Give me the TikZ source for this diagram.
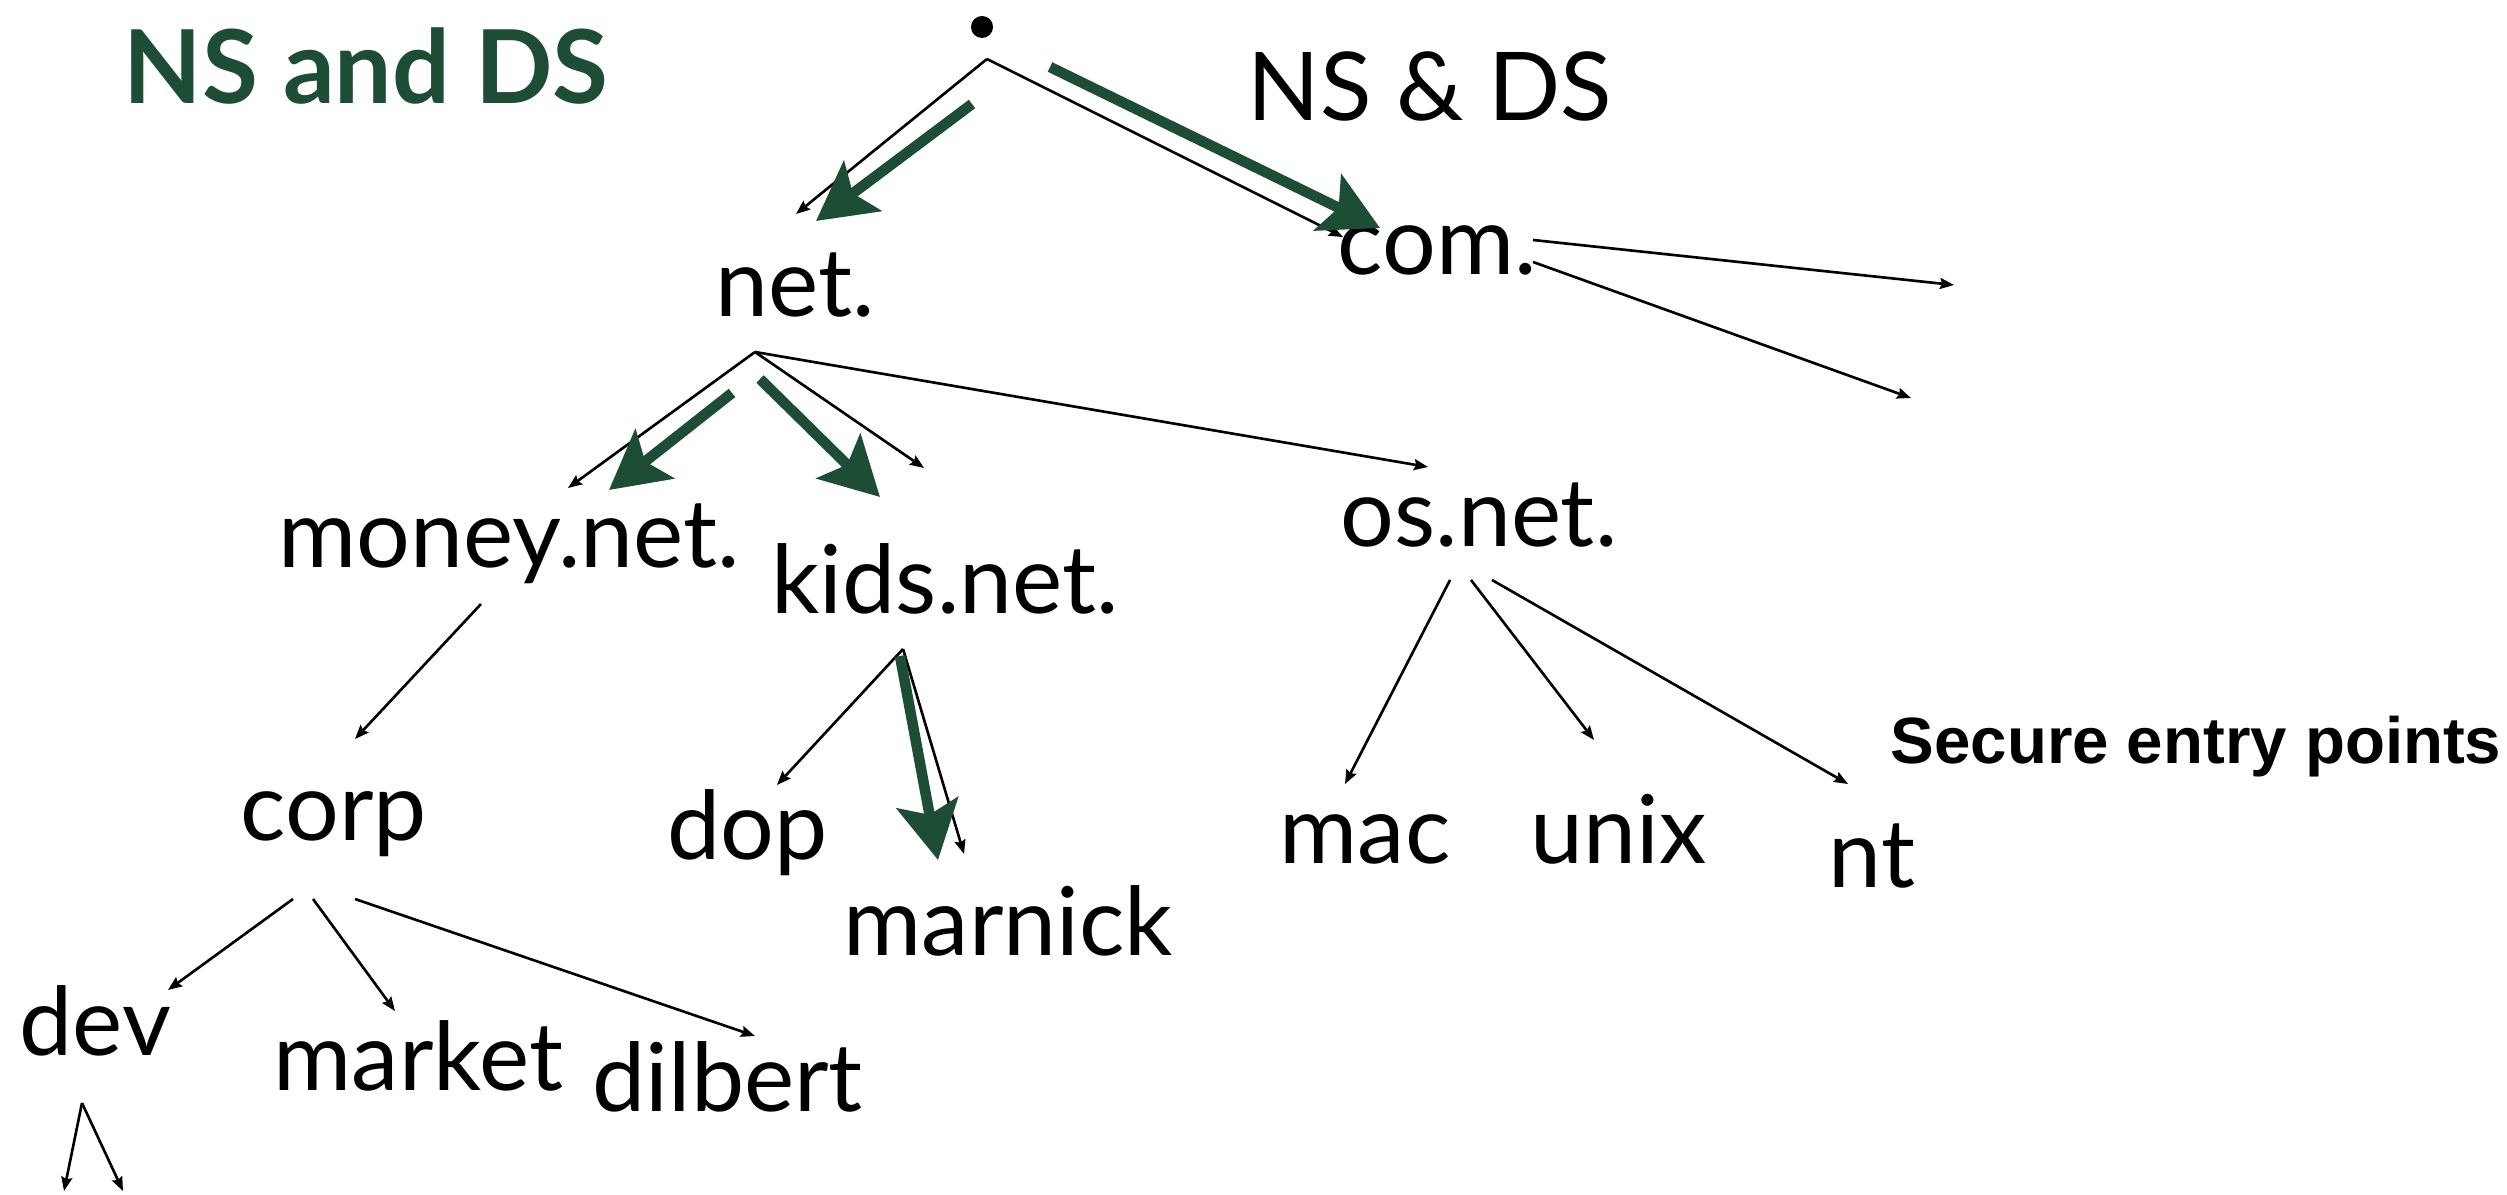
\documentclass[tikz,border=0pt]{standalone}
\usepackage{fontspec}
\setmainfont{Lato}
\newfontfamily\notefont{Liberation Sans}
\usetikzlibrary{arrows.meta}
\definecolor{dsgreen}{RGB}{30,77,54}
\begin{document}
\begin{tikzpicture}[x=0.01cm,y=-0.01cm,
  lbl/.style={font=\fontsize{27}{30}\selectfont, inner sep=0pt, anchor=base west},
  thinarr/.style={line width=0.75pt, -{Stealth[length=0.14cm,width=0.11cm,inset=0.02cm]}},
  greenarr/.style={draw=dsgreen, line width=3pt, -{Stealth[length=0.58cm,width=0.62cm,inset=0.12cm]}, fill=dsgreen}]
\useasboundingbox (0,0) rectangle (2507,1195);

% titles
\node[inner sep=0pt, anchor=base west, text=dsgreen, font=\fontsize{29}{32}\selectfont\bfseries] (title) at (123,104) {NS and DS};
\node[lbl] (nsds) at (1247,121) {NS \& DS};
\node[inner sep=0pt, anchor=base west, font=\notefont\fontsize{18.6}{20}\selectfont\bfseries] (secure) at (1890,764) {Secure entry points};

% root of the tree
\node[circle, fill, inner sep=0pt, minimum size=0.22cm] (root) at (982,27) {};

% domain labels
\node[lbl] (com) at (1337,275) {com.};
\node[lbl] (net) at (715,317) {net.};
\node[lbl] (money) at (278,568) {money.net.};
\node[lbl] (kids) at (771,614) {kids.net.};
\node[lbl] (os) at (1340,547) {os.net.};
\node[lbl] (corp) at (240,840) {corp};
\node[lbl] (dop) at (667,859) {dop};
\node[lbl] (marnick) at (843,955) {marnick};
\node[lbl] (mac) at (1279,863) {mac};
\node[lbl] (unix) at (1530,863) {unix};
\node[lbl] (nt) at (1828,887) {nt};
\node[lbl] (dev) at (19,1055) {dev};
\node[lbl] (market) at (273,1090) {market};
\node[lbl] (dilbert) at (592,1111) {dilbert};

% connector end points
\coordinate (rootFork) at (987,59);
\coordinate (netIn) at (796,214);
\coordinate (comIn) at (1343,237);
\coordinate (comOutA) at (1533,240);
\coordinate (comOutB) at (1533,262);
\coordinate (comTipA) at (1954,285);
\coordinate (comTipB) at (1911,398);
\coordinate (netFork) at (755,352);
\coordinate (moneyIn) at (568,488);
\coordinate (kidsIn) at (924,468);
\coordinate (osIn) at (1428,467);
\coordinate (moneyOut) at (481,604);
\coordinate (corpIn) at (355,739);
\coordinate (kidsFork) at (903,649);
\coordinate (dopIn) at (777,785);
\coordinate (marnickIn) at (964,854);
\coordinate (osOutA) at (1450,580);
\coordinate (osOutB) at (1471,580);
\coordinate (osOutC) at (1492,580);
\coordinate (macIn) at (1345,784);
\coordinate (unixIn) at (1594,740);
\coordinate (ntIn) at (1848,784);
\coordinate (corpOutA) at (293,899);
\coordinate (corpOutB) at (313,899);
\coordinate (corpOutC) at (355,899);
\coordinate (devIn) at (168,990);
\coordinate (marketIn) at (395,1011);
\coordinate (dilbertIn) at (755,1036);
\coordinate (devFork) at (82,1103);
\coordinate (devTipA) at (64,1191);
\coordinate (devTipB) at (123,1191);

% delegation arrows (thin)
\draw[thinarr] (rootFork) -- (netIn);
\draw[thinarr] (rootFork) -- (comIn);
\draw[thinarr] (comOutA) -- (comTipA);
\draw[thinarr] (comOutB) -- (comTipB);
\draw[thinarr] (netFork) -- (moneyIn);
\draw[thinarr] (netFork) -- (kidsIn);
\draw[thinarr] (netFork) -- (osIn);
\draw[thinarr] (moneyOut) -- (corpIn);
\draw[thinarr] (kidsFork) -- (dopIn);
\draw[thinarr] (kidsFork) -- (marnickIn);
\draw[thinarr] (osOutA) -- (macIn);
\draw[thinarr] (osOutB) -- (unixIn);
\draw[thinarr] (osOutC) -- (ntIn);
\draw[thinarr] (corpOutA) -- (devIn);
\draw[thinarr] (corpOutB) -- (marketIn);
\draw[thinarr] (corpOutC) -- (dilbertIn);
\draw[thinarr] (devFork) -- (devTipA);
\draw[thinarr] (devFork) -- (devTipB);

% signed chain (thick green)
\coordinate (gNetFrom) at (972,104);
\coordinate (gNetTo) at (816,221);
\coordinate (gComFrom) at (1050,67);
\coordinate (gComTo) at (1380,228);
\coordinate (gMoneyFrom) at (732,393);
\coordinate (gMoneyTo) at (609,490);
\coordinate (gKidsFrom) at (760,379);
\coordinate (gKidsTo) at (880,497);
\coordinate (gMarnickFrom) at (900,656);
\coordinate (gMarnickTo) at (938,860);
\draw[greenarr] (gNetFrom) -- (gNetTo);
\draw[greenarr] (gComFrom) -- (gComTo);
\draw[greenarr] (gMoneyFrom) -- (gMoneyTo);
\draw[greenarr] (gKidsFrom) -- (gKidsTo);
\draw[greenarr] (gMarnickFrom) -- (gMarnickTo);
\end{tikzpicture}
\end{document}
